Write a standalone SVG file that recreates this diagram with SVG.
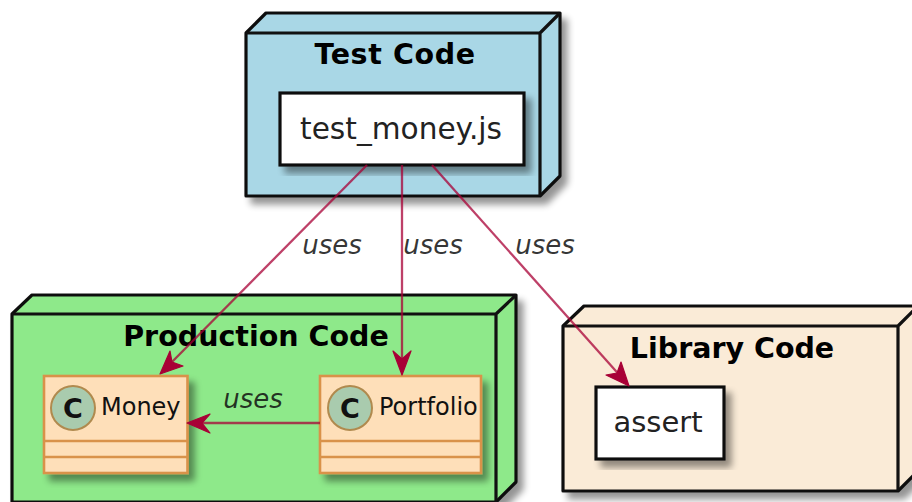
<svg xmlns="http://www.w3.org/2000/svg" width="912" height="502" viewBox="0 0 912 502">
<style>
.box{stroke:#111;stroke-width:3.2;stroke-linejoin:round}
.title{font:bold 28.500px "DejaVu Sans",sans-serif;fill:#000;text-anchor:middle}
.art{fill:#fff;stroke:#111;stroke-width:3.2}
.artt{font:29px "DejaVu Sans",sans-serif;fill:#222;text-anchor:middle}
.cls{fill:#fedfb9;stroke:#d9924a;stroke-width:2.6}
.sep{stroke:#d9924a;stroke-width:2.6;fill:none}
.circ{fill:#a9cbae;stroke:#b08a4e;stroke-width:2}
.cl{font:bold 27px "DejaVu Sans",sans-serif;fill:#111;text-anchor:middle}
.name{font:24px "DejaVu Sans",sans-serif;fill:#111}
.lbl{font:italic 26px "DejaVu Sans",sans-serif;fill:#111;fill-opacity:.85;text-anchor:middle}
.edge{fill:none;stroke:#a80036;stroke-opacity:.75;stroke-width:2.3}
.head{fill:#a80036;stroke:#a80036;stroke-width:1.2;stroke-linejoin:round}
</style>
<defs>
<filter id="sh" x="-10%" y="-10%" width="125%" height="125%">
<feGaussianBlur in="SourceAlpha" stdDeviation="3.500"/>
<feOffset dx="6" dy="7"/>
<feComponentTransfer><feFuncA type="linear" slope="0.42"/></feComponentTransfer>
<feMerge><feMergeNode/><feMergeNode in="SourceGraphic"/></feMerge>
</filter>
</defs>
<g id="test-code">
<path class="box" filter="url(#sh)" fill="#a9d7e6" d="M246 33L266 13H560V176L540 196H246Z"/>
<path class="box" fill="none" d="M246 33H540L560 13M540 33V196"/>
<text class="title" x="395" y="64" letter-spacing=".6">Test Code</text>
</g>
<g id="production-code">
<path class="box" filter="url(#sh)" fill="#8ee98a" d="M12 314L32 295H516V482L496 502H12Z"/>
<path class="box" fill="none" d="M12 314H496L516 295M496 314V502"/>
<text class="title" x="256" y="346">Production Code</text>
</g>
<g id="library-code">
<path class="box" filter="url(#sh)" fill="#faebd7" d="M563 326L584 306H918V471L898 491H563Z"/>
<path class="box" fill="none" d="M563 326H898L918 306M898 326V491"/>
<text class="title" x="732" y="358">Library Code</text>
</g>
<g id="test-money">
<rect class="art" filter="url(#sh)" x="280" y="93" width="244" height="72"/>
<text class="artt" x="401" y="139" font-size="29.600" style="font-size:29.600px">test_money.js</text>
</g>
<g id="assert">
<rect class="art" filter="url(#sh)" x="596" y="387" width="128" height="72"/>
<text class="artt" x="658" y="432">assert</text>
</g>
<g id="money">
<rect class="cls" filter="url(#sh)" x="44" y="376" width="143.500" height="97"/>
<path class="sep" d="M44 441H187.500M44 457H187.500"/>
<circle class="circ" cx="73" cy="408" r="22"/>
<text class="cl" x="73" y="418">C</text>
<text class="name" x="101" y="415">Money</text>
</g>
<g id="portfolio">
<rect class="cls" filter="url(#sh)" x="320" y="376" width="161" height="97"/>
<path class="sep" d="M320 441H481M320 457H481"/>
<circle class="circ" cx="350" cy="408" r="22"/>
<text class="cl" x="350" y="418">C</text>
<text class="name" x="379" y="415">Portfolio</text>
</g>
<g id="connectors">
<path class="edge" d="M367 165L166 368"/>
<path class="head" d="M160 374L170 351L172 362L183 366Z"/>
<path class="edge" d="M402 165V366"/>
<path class="head" d="M402 375L393 351L402 359L411 351Z"/>
<path class="edge" d="M432 165L623 379"/>
<path class="head" d="M629 386L606 375L617 373L621 362Z"/>
<path class="edge" d="M320 423H195"/>
<path class="head" d="M187 423L210 414L202 423L210 433Z"/>
<text class="lbl" x="332" y="254">uses</text>
<text class="lbl" x="433" y="254">uses</text>
<text class="lbl" x="545" y="254">uses</text>
<text class="lbl" x="253" y="408">uses</text>
</g>
</svg>
